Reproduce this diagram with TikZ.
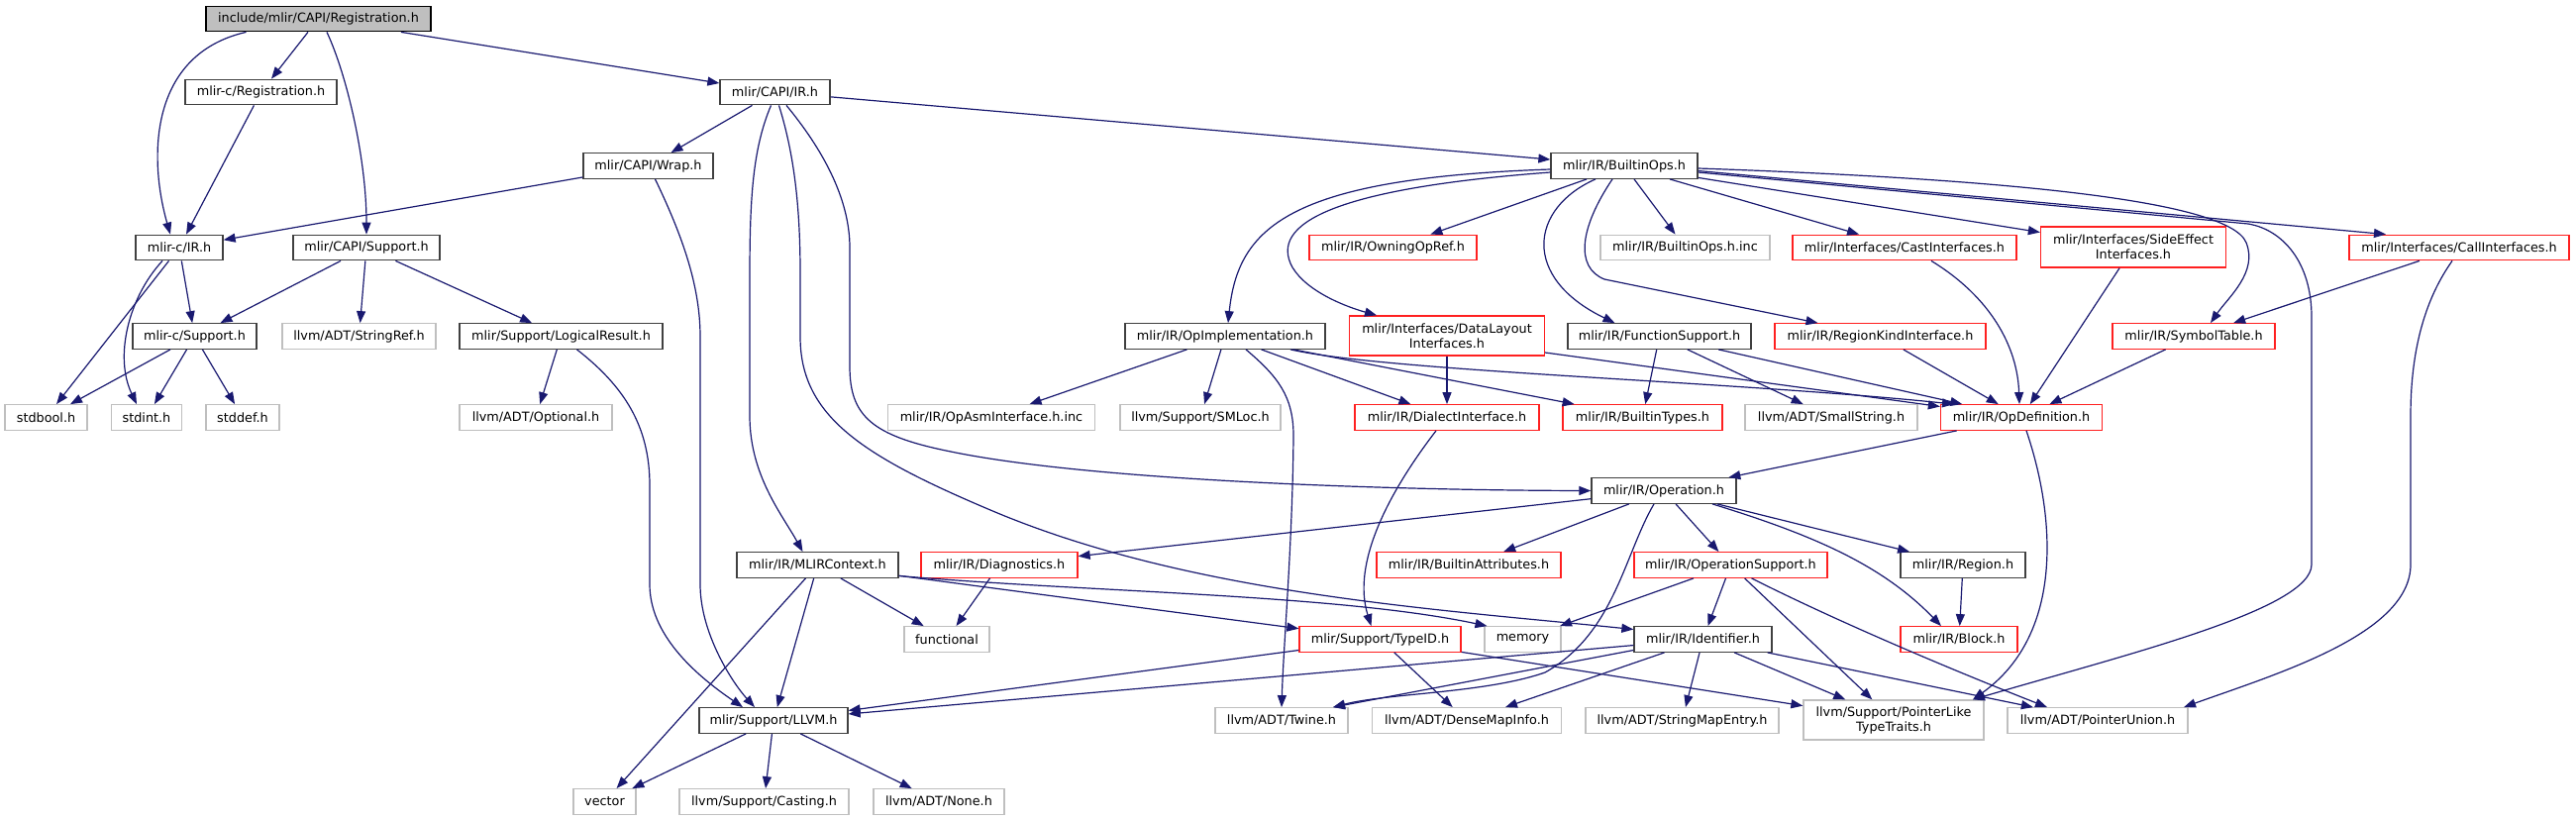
\documentclass[tikz,border=0pt]{standalone}
\usepackage{fontspec}
\setmainfont{DejaVu Sans}
\usetikzlibrary{arrows.meta}
\definecolor{edgec}{HTML}{191970}
\definecolor{extc}{HTML}{BFBFBF}
\definecolor{blkc}{HTML}{404040}
\definecolor{redc}{HTML}{FF2020}
\definecolor{rootfill}{HTML}{BFBFBF}
\begin{document}
\begin{tikzpicture}[x=1pt,y=-1pt,
 box/.style={rectangle, inner sep=0pt, minimum height=25.5pt, fill=white, font=\fontsize{12.8pt}{15pt}\selectfont, line width=1.3pt, align=center},
 blk/.style={box, draw=blkc},
 redn/.style={box, draw=redc},
 ext/.style={box, draw=extc},
 rootn/.style={box, draw=black, fill=rootfill},
 edg/.style={draw=edgec, line width=1.2pt, -{Triangle[length=12pt,width=9pt]}}
]
\fill[white] (0,0) rectangle (2601,828);
\useasboundingbox (0,0) rectangle (2601,828);

\node[rootn, minimum width=227pt] (root) at (321.5,19) {include/mlir/CAPI/Registration.h};
\node[blk, minimum width=153pt] (creg) at (263.5,93) {mlir-c/Registration.h};
\node[blk, minimum width=111pt] (capiir) at (782.5,93) {mlir/CAPI/IR.h};
\node[blk, minimum width=131pt] (wrap) at (654.5,167.5) {mlir/CAPI/Wrap.h};
\node[blk, minimum width=148pt] (bops) at (1640,167.5) {mlir/IR/BuiltinOps.h};
\node[blk, minimum width=88pt] (cir) at (181,250) {mlir-c/IR.h};
\node[blk, minimum width=148pt] (capisup) at (370,250) {mlir/CAPI/Support.h};
\node[redn, minimum width=169pt] (owning) at (1406.5,250) {mlir/IR/OwningOpRef.h};
\node[ext, minimum width=171pt] (bopsinc) at (1701.5,250) {mlir/IR/BuiltinOps.h.inc};
\node[redn, minimum width=226pt] (cast) at (1923,250) {mlir/Interfaces/CastInterfaces.h};
\node[redn, minimum width=187pt, minimum height=41pt] (side) at (2154,249.5) {mlir/Interfaces/SideEffect\\Interfaces.h};
\node[redn, minimum width=222pt] (call) at (2483,250) {mlir/Interfaces/CallInterfaces.h};
\node[blk, minimum width=125pt] (csup) at (196.5,339.5) {mlir-c/Support.h};
\node[ext, minimum width=155pt] (strref) at (362.5,339.5) {llvm/ADT/StringRef.h};
\node[blk, minimum width=205pt] (logres) at (566.5,339.5) {mlir/Support/LogicalResult.h};
\node[blk, minimum width=202pt] (opimpl) at (1237,339.5) {mlir/IR/OpImplementation.h};
\node[redn, minimum width=197pt, minimum height=40pt] (dl) at (1461,339) {mlir/Interfaces/DataLayout\\Interfaces.h};
\node[blk, minimum width=185pt] (funcsup) at (1675.5,339.5) {mlir/IR/FunctionSupport.h};
\node[redn, minimum width=213pt] (rki) at (1898.5,339.5) {mlir/IR/RegionKindInterface.h};
\node[redn, minimum width=164pt] (symtab) at (2215,339.5) {mlir/IR/SymbolTable.h};
\node[ext, minimum width=83pt] (stdbool) at (46.5,421.5) {stdbool.h};
\node[ext, minimum width=71pt] (stdint) at (148,421.5) {stdint.h};
\node[ext, minimum width=74pt] (stddef) at (245,421.5) {stddef.h};
\node[ext, minimum width=154pt] (optional) at (541,421.5) {llvm/ADT/Optional.h};
\node[ext, minimum width=209pt] (opasm) at (1001,421.5) {mlir/IR/OpAsmInterface.h.inc};
\node[ext, minimum width=162pt] (smloc) at (1212,421.5) {llvm/Support/SMLoc.h};
\node[redn, minimum width=186pt] (dialect) at (1461,421.5) {mlir/IR/DialectInterface.h};
\node[redn, minimum width=161pt] (btypes) at (1658.5,421.5) {mlir/IR/BuiltinTypes.h};
\node[ext, minimum width=174pt] (smallstr) at (1849,421.5) {llvm/ADT/SmallString.h};
\node[redn, minimum width=163pt] (opdef) at (2041,421.5) {mlir/IR/OpDefinition.h};
\node[blk, minimum width=146pt] (operation) at (1680,495.5) {mlir/IR/Operation.h};
\node[blk, minimum width=163pt] (mlirctx) at (825.5,570.5) {mlir/IR/MLIRContext.h};
\node[redn, minimum width=158pt] (diag) at (1009,570.5) {mlir/IR/Diagnostics.h};
\node[redn, minimum width=186pt] (battr) at (1483,570.5) {mlir/IR/BuiltinAttributes.h};
\node[redn, minimum width=195pt] (opsup) at (1747.5,570.5) {mlir/IR/OperationSupport.h};
\node[blk, minimum width=126pt] (region) at (1982,570.5) {mlir/IR/Region.h};
\node[ext, minimum width=86pt] (functional) at (956,645.5) {functional};
\node[redn, minimum width=163pt] (typeid) at (1393.5,645.5) {mlir/Support/TypeID.h};
\node[ext, minimum width=77pt] (memory) at (1537.5,645.5) {memory};
\node[blk, minimum width=139pt] (ident) at (1719.5,645.5) {mlir/IR/Identifier.h};
\node[redn, minimum width=118pt] (block) at (1978,645.5) {mlir/IR/Block.h};
\node[blk, minimum width=150pt] (llvmh) at (781,727.5) {mlir/Support/LLVM.h};
\node[ext, minimum width=134pt] (twine) at (1294,727.5) {llvm/ADT/Twine.h};
\node[ext, minimum width=191pt] (dmi) at (1481,727.5) {llvm/ADT/DenseMapInfo.h};
\node[ext, minimum width=195pt] (sme) at (1698.5,727.5) {llvm/ADT/StringMapEntry.h};
\node[ext, minimum width=182pt, minimum height=40pt] (plike) at (1912,727) {llvm/Support/PointerLike\\TypeTraits.h};
\node[ext, minimum width=182pt] (punion) at (2118,727.5) {llvm/ADT/PointerUnion.h};
\node[ext, minimum width=63pt] (vector) at (610.5,809.5) {vector};
\node[ext, minimum width=171pt] (casting) at (771.5,809.5) {llvm/Support/Casting.h};
\node[ext, minimum width=132pt] (none) at (948,809.5) {llvm/ADT/None.h};

% root
\draw[edg] ([xshift=-73pt]root.south) .. controls (150,55) and (150,160) .. ([xshift=-9pt]cir.north);
\draw[edg] (root) -- (creg);
\draw[edg] ([xshift=8.5pt]root.south) .. controls (350,75) and (370,160) .. (capisup.north);
\draw[edg] (root) -- (capiir);
\draw[edg] (creg) -- (cir);
% CAPI/IR
\draw[edg] (capiir) -- (wrap);
\draw[edg] (capiir) -- (bops);
\draw[edg] ([xshift=-4pt]capiir.south) .. controls (760,150) and (757,200) .. (757,280) -- (757,420) .. controls (757,480) and (790,520) .. ([xshift=-15pt]mlirctx.north);
\draw[edg] ([xshift=4pt]capiir.south) .. controls (800,150) and (808,200) .. (808,276) -- (808,340) .. controls (808,420) and (870,460) .. (1000,515) .. controls (1200,600) and (1450,615) .. ([yshift=10pt]ident.west);
\draw[edg] ([xshift=11.5pt]capiir.south) .. controls (830,150) and (858,200) .. (858,250) -- (858,370) .. controls (858,420) and (880,440) .. (960,456) .. controls (1100,485) and (1400,495) .. (operation.west);
% Wrap
\draw[edg] (wrap) -- (cir);
\draw[edg] ([xshift=7pt]wrap.south) .. controls (690,240) and (707,290) .. (707,340) -- (707,590) .. controls (707,640) and (740,690) .. ([xshift=-19pt]llvmh.north);
% mlir-c
\draw[edg] (cir) -- (csup);
\draw[edg] (cir) -- (stdbool);
\draw[edg] ([xshift=-17pt]cir.south) .. controls (130,300) and (115,360) .. ([xshift=-10pt]stdint.north);
\draw[edg] (capisup) -- (csup);
\draw[edg] (capisup) -- (strref);
\draw[edg] (capisup) -- (logres);
\draw[edg] (csup) -- (stdbool);
\draw[edg] (csup) -- (stdint);
\draw[edg] (csup) -- (stddef);
\draw[edg] (logres) -- (optional);
\draw[edg] ([xshift=16pt]logres.south) .. controls (630,390) and (656,430) .. (656,490) -- (656,590) .. controls (656,640) and (700,680) .. ([xshift=-31pt]llvmh.north);
% BuiltinOps
\draw[edg] ([yshift=-3.5pt]bops.west) .. controls (1300,180) and (1250,230) .. ([xshift=3pt]opimpl.north);
\draw[edg] ([yshift=-6.5pt]bops.west) .. controls (1350,190) and (1280,225) .. (1305,270) .. controls (1320,295) and (1360,310) .. ([xshift=-71pt]dl.north);
\draw[edg] (bops) -- (owning);
\draw[edg] ([xshift=-29pt]bops.south) .. controls (1545,210) and (1535,280) .. ([xshift=-45pt]funcsup.north);
\draw[edg] ([xshift=-12pt]bops.south) .. controls (1595,230) and (1590,270) .. (1620,282) -- ([xshift=-63pt]rki.north);
\draw[edg] (bops) -- (bopsinc);
\draw[edg] (bops) -- (cast);
\draw[edg] (bops) -- (side);
\draw[edg] ([yshift=-5pt]bops.east) -- ([xshift=-74pt]call.north);
\draw[edg] ([yshift=-6.5pt]bops.east) -- (2270,226) .. controls (2305,232) and (2334,265) .. (2334,320) -- (2334,570) .. controls (2334,615) and (2150,660) .. ([xshift=80pt]plike.north);
\draw[edg] ([yshift=-2.5pt]bops.east) .. controls (2000,180) and (2250,200) .. (2268,245) .. controls (2280,275) and (2250,300) .. ([xshift=17pt]symtab.north);
% interfaces
\draw[edg] (call) -- (symtab);
\draw[edg] ([xshift=-7pt]call.south) .. controls (2450,300) and (2434,350) .. (2434,420) -- (2434,570) .. controls (2434,640) and (2300,680) .. ([xshift=87pt]punion.north);
\draw[edg] ([xshift=27pt]cast.south) .. controls (2010,300) and (2037,350) .. ([xshift=-2pt]opdef.north);
\draw[edg] (side) -- (opdef);
\draw[edg] (rki) -- (opdef);
\draw[edg] (symtab) -- (opdef);
\draw[edg] (funcsup) -- (btypes);
\draw[edg] (funcsup) -- (smallstr);
\draw[edg] (funcsup) -- (opdef);
\draw[edg] (dl) -- (dialect);
\draw[edg] ([yshift=-17pt]dl.east) -- ([yshift=11pt]opdef.west);
% OpImplementation
\draw[edg] (opimpl) -- (opasm);
\draw[edg] (opimpl) -- (smloc);
\draw[edg] ([xshift=21pt]opimpl.south) .. controls (1290,380) and (1306,400) .. (1306,440) .. controls (1305,550) and (1296,650) .. (twine.north);
\draw[edg] (opimpl) -- (dialect);
\draw[edg] (opimpl) -- (btypes);
\draw[edg] ([xshift=66pt]opimpl.south) .. controls (1400,375) and (1750,385) .. ([xshift=-68pt]opdef.north);
\draw[edg] ([xshift=-11pt]dialect.south) .. controls (1400,500) and (1365,570) .. ([xshift=-9pt]typeid.north);
% OpDefinition
\draw[edg] (opdef) -- (operation);
\draw[edg] ([xshift=5pt]opdef.south) .. controls (2075,520) and (2085,640) .. ([xshift=80pt]plike.north);
% Operation
\draw[edg] (operation) -- (diag);
\draw[edg] (operation) -- (battr);
\draw[edg] (operation) -- (opsup);
\draw[edg] (operation) -- (region);
\draw[edg] ([xshift=49pt]operation.south) .. controls (1830,540) and (1900,570) .. ([xshift=-18pt]block.north);
\draw[edg] ([xshift=-10pt]operation.south) .. controls (1640,560) and (1630,640) .. (1560,679) .. controls (1500,700) and (1400,700) .. ([xshift=52pt]twine.north);
\draw[edg] (diag) -- (functional);
% MLIRContext
\draw[edg] (mlirctx) -- (vector);
\draw[edg] (mlirctx) -- (llvmh);
\draw[edg] (mlirctx) -- (functional);
\draw[edg] (mlirctx) -- (typeid);
\draw[edg] ([yshift=-11pt]mlirctx.east) .. controls (1100,598) and (1350,600) .. ([xshift=-36pt]memory.north);
% OperationSupport
\draw[edg] (opsup) -- (memory);
\draw[edg] (opsup) -- (ident);
\draw[edg] (opsup) -- (plike);
\draw[edg] ([xshift=21pt]opsup.south) .. controls (1860,630) and (1980,680) .. ([xshift=-51pt]punion.north);
% Identifier
\draw[edg] (ident) -- (llvmh);
\draw[edg] ([yshift=-11pt]ident.west) -- ([xshift=52pt]twine.north);
\draw[edg] (ident) -- (dmi);
\draw[edg] (ident) -- (sme);
\draw[edg] (ident) -- (plike);
\draw[edg] (ident) -- (punion);
% TypeID
\draw[edg] (typeid) -- (llvmh);
\draw[edg] (typeid) -- (dmi);
\draw[edg] (typeid) -- (plike);
\draw[edg] (region) -- (block);
% LLVM.h
\draw[edg] (llvmh) -- (vector);
\draw[edg] (llvmh) -- (casting);
\draw[edg] (llvmh) -- (none);
\end{tikzpicture}
\end{document}
